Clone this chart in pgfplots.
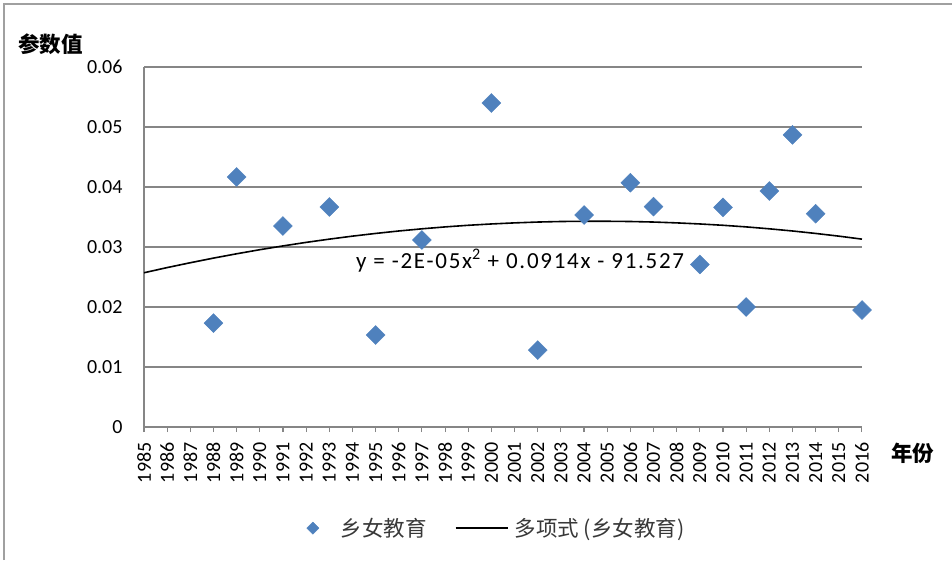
\documentclass[border=0pt]{standalone}
\usepackage{pgfplots}
\pgfplotsset{compat=1.18}
\usepackage{fontspec}
\setmainfont{Carlito}
\newfontfamily\cjk{Noto Sans CJK SC}
\definecolor{mkblue}{RGB}{79,129,189}
\definecolor{gridgray}{RGB}{134,134,134}
\definecolor{bordergray}{RGB}{160,160,160}

\pgfplotstableread{
year val
1988 0.01733
1989 0.04167
1991 0.03350
1993 0.03667
1995 0.01533
1997 0.03117
2000 0.05400
2002 0.01283
2004 0.03533
2006 0.04072
2007 0.03672
2009 0.02710
2010 0.03660
2011 0.02000
2012 0.03933
2013 0.04870
2014 0.03555
2016 0.01950
}\pts

\pgfplotstableread{
year val
1985 0.02571
1986 0.02657
1987 0.02738
1988 0.02815
1989 0.02887
1990 0.02955
1991 0.03018
1992 0.03077
1993 0.03131
1994 0.03181
1995 0.03226
1996 0.03267
1997 0.03303
1998 0.03335
1999 0.03362
2000 0.03384
2001 0.03402
2002 0.03416
2003 0.03425
2004 0.03429
2005 0.03429
2006 0.03425
2007 0.03416
2008 0.03402
2009 0.03384
2010 0.03362
2011 0.03335
2012 0.03303
2013 0.03267
2014 0.03226
2015 0.03181
2016 0.03131
}\trend

\begin{document}
\begin{tikzpicture}[x=1pt,y=1pt]
\path[use as bounding box] (0,0) rectangle (952,560);
\draw[bordergray, line width=1.3pt] (4,0) -- (4,556) -- (952,556);
\begin{axis}[
  at={(144pt,133pt)}, anchor=south west,
  scale only axis, width=718pt, height=360pt,
  xmin=1985, xmax=2016, ymin=0, ymax=0.06,
  scaled y ticks=false, scaled x ticks=false,
  xtick={1985,...,2016},
  xticklabels={1985,1986,1987,1988,1989,1990,1991,1992,1993,1994,1995,1996,1997,1998,1999,2000,2001,2002,2003,2004,2005,2006,2007,2008,2009,2010,2011,2012,2013,2014,2015,2016},
  ytick={0,0.01,0.02,0.03,0.04,0.05,0.06},
  yticklabels={0,0.01,0.02,0.03,0.04,0.05,0.06},
  axis x line*=bottom, axis y line*=left,
  axis line style={gridgray, line width=1.3pt},
  ymajorgrids, grid style={gridgray, line width=1.3pt},
  tick align=outside, major tick length=5pt,
  xtick style={gridgray, line width=1.1pt},
  ytick style={draw=none},
  ticklabel style={font=\fontsize{20}{20}\selectfont},
  xticklabel style={rotate=90, anchor=east},
  xticklabel shift=7pt,
  yticklabel style={xshift=-13pt},
  clip=false,
  legend style={at={(0.491,-0.281)}, anchor=center, draw=none, fill=none,
    legend columns=2, font=\cjk\fontsize{21.5}{21.5}\selectfont, text=black!78,
    /tikz/every even column/.append style={column sep=26pt}},
]
\addplot[only marks, mark=square*, mark size=6.7pt,
  mark options={rotate=45, fill=mkblue, draw=mkblue},
  legend image code/.code={\fill[mkblue, rotate=45] (-4.3pt,-4.3pt) rectangle (4.3pt,4.3pt); \path[draw=none, fill=none] (0pt,0pt) rectangle (26pt,0.1pt);}]
  table[x=year, y=val] {\pts};
\addlegendentry{乡女教育}
\addplot[black, line width=1.6pt, no marks,
  legend image code/.code={\draw[black, line width=1.6pt] (0pt,0pt) -- (52pt,0pt); \path[draw=none, fill=none] (0pt,0pt) rectangle (57pt,0.1pt);}]
  table[x=year, y=val] {\trend};
\addlegendentry{多项式 (乡女教育)}
\node[anchor=west, font=\fontsize{23}{23}\selectfont\addfontfeature{LetterSpace=7.5}, inner sep=0pt] at (axis cs:1994.15,0.0277) {y = -2E-05x\textsuperscript{2} + 0.0914x - 91.527};
\end{axis}
\node[anchor=west, font=\cjk\bfseries\fontsize{21.5}{21.5}\selectfont, inner sep=0pt] at (18,516) {参数值};
\node[anchor=west, font=\cjk\bfseries\fontsize{21.5}{21.5}\selectfont, inner sep=0pt] at (891,107) {年份};
\end{tikzpicture}
\end{document}
